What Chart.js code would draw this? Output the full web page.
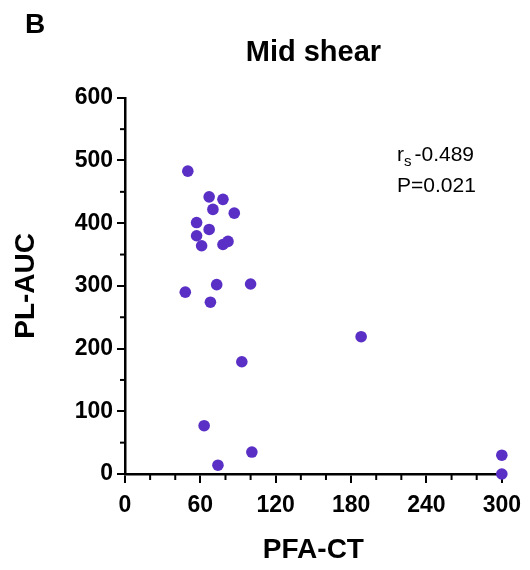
<!DOCTYPE html>
<html>
<head>
<meta charset="utf-8">
<script src="https://cdn.jsdelivr.net/npm/chart.js@4"></script>
<style>
  html, body { margin: 0; padding: 0; background: #fff; }
  #wrap { width: 530px; height: 570px; position: relative; }
</style>
</head>
<body>
<div id="wrap"><canvas id="c"></canvas></div>
<script>
// ---- data ----
const pfaCT = [50, 67, 78, 70, 87, 57, 67, 57, 61, 78, 82, 48, 73, 100, 68, 93, 63, 101, 74, 188, 300, 300];
const plAUC = [483, 442, 438, 422, 416, 401, 390, 380, 364, 366, 371, 290, 302, 303, 274, 179, 77, 35, 14, 219, 30, 0];
const xMajorTicks = [0, 60, 120, 180, 240, 300];
const yMajorTicks = [0, 100, 200, 300, 400, 500, 600];
const xMinorStep = 20;
const yMinorStep = 50;
const chartTitle = 'Mid shear';
const panelLetter = 'B';
const xTitle = 'PFA-CT';
const yTitle = 'PL-AUC';
const statR = '-0.489';
const statP = 'P=0.021';

const FONT = '"Liberation Sans", Arial, Helvetica, sans-serif';
const DOT = '#5a2fc6';

const points = pfaCT.map((x, i) => ({ x: x, y: plAUC[i] }));

const minorTicks = {
  id: 'minorTicks',
  afterDraw(chart) {
    const c = chart.ctx;
    const xs = chart.scales.x, ys = chart.scales.y;
    c.save();
    c.strokeStyle = '#000';
    c.lineWidth = 2;
    for (let v = xs.min; v <= xs.max; v += xMinorStep) {
      if (xMajorTicks.includes(v)) continue;
      const px = xs.getPixelForValue(v);
      c.beginPath(); c.moveTo(px, xs.top); c.lineTo(px, xs.top + 6); c.stroke();
    }
    for (let v = ys.min; v <= ys.max; v += yMinorStep) {
      if (yMajorTicks.includes(v)) continue;
      const py = ys.getPixelForValue(v);
      c.beginPath(); c.moveTo(ys.right, py); c.lineTo(ys.right - 5, py); c.stroke();
    }
    c.restore();
  }
};

const annotations = {
  id: 'annotations',
  afterDraw(chart) {
    const c = chart.ctx;
    c.save();
    c.fillStyle = '#000';
    c.textBaseline = 'alphabetic';
    c.textAlign = 'left';
    // panel letter
    c.font = 'bold 28px ' + FONT;
    c.fillText(panelLetter, 25, 33);
    // r_s
    let x = 397;
    const y1 = 161;
    c.font = '21px ' + FONT;
    c.fillText('r', x, y1);
    x += c.measureText('r').width;
    c.font = '15px ' + FONT;
    c.fillText('s', x, y1 + 5);
    x += c.measureText('s').width + 3;
    c.font = '21px ' + FONT;
    c.fillText(statR, x, y1);
    c.fillText(statP, 397, 192);
    c.restore();
  }
};

new Chart(document.getElementById('c'), {
  type: 'scatter',
  data: {
    datasets: [{
      data: points,
      backgroundColor: DOT,
      borderColor: DOT,
      borderWidth: 0,
      pointRadius: 5.8,
      pointHoverRadius: 5.8,
      clip: false
    }]
  },
  options: {
    responsive: true,
    maintainAspectRatio: false,
    animation: false,
    events: [],
    layout: { padding: { left: 0, right: 28, top: 0, bottom: 0 } },
    plugins: {
      legend: { display: false },
      tooltip: { enabled: false },
      title: {
        display: true,
        text: chartTitle,
        fullSize: false,
        color: '#000',
        font: { family: FONT, size: 29, weight: 'bold' },
        padding: { top: 36, bottom: 27 }
      }
    },
    scales: {
      x: {
        type: 'linear',
        min: 0, max: 300,
        afterFit(s) { s.height = 96; },
        border: { display: true, color: '#000', width: 2.5 },
        grid: {
          drawOnChartArea: false,
          drawTicks: true,
          tickLength: 9,
          lineWidth: 2,
          color: ctx => (ctx.tick && xMajorTicks.includes(ctx.tick.value)) ? '#000' : 'rgba(0,0,0,0)'
        },
        ticks: {
          stepSize: xMinorStep,
          autoSkip: false,
          maxRotation: 0,
          padding: 9,
          color: '#000',
          font: { family: FONT, size: 23, weight: 'bold' },
          callback: v => xMajorTicks.includes(v) ? String(v) : ''
        },
        title: {
          display: true,
          text: xTitle,
          color: '#000',
          font: { family: FONT, size: 28, weight: 'bold' },
          padding: { top: 0, bottom: 3 }
        }
      },
      y: {
        type: 'linear',
        min: 0, max: 600,
        afterFit(s) { s.width = 125; },
        border: { display: true, color: '#000', width: 2.5 },
        grid: {
          drawOnChartArea: false,
          drawTicks: true,
          tickLength: 8,
          lineWidth: 2,
          color: ctx => (ctx.tick && yMajorTicks.includes(ctx.tick.value)) ? '#000' : 'rgba(0,0,0,0)'
        },
        ticks: {
          stepSize: yMinorStep,
          autoSkip: false,
          padding: 4,
          color: '#000',
          font: { family: FONT, size: 23, weight: 'bold' },
          callback: v => yMajorTicks.includes(v) ? String(v) : ''
        },
        title: {
          display: true,
          text: yTitle,
          color: '#000',
          font: { family: FONT, size: 28, weight: 'bold' },
          padding: { top: 9, bottom: 0 }
        }
      }
    }
  },
  plugins: [minorTicks, annotations]
});
</script>
</body>
</html>
